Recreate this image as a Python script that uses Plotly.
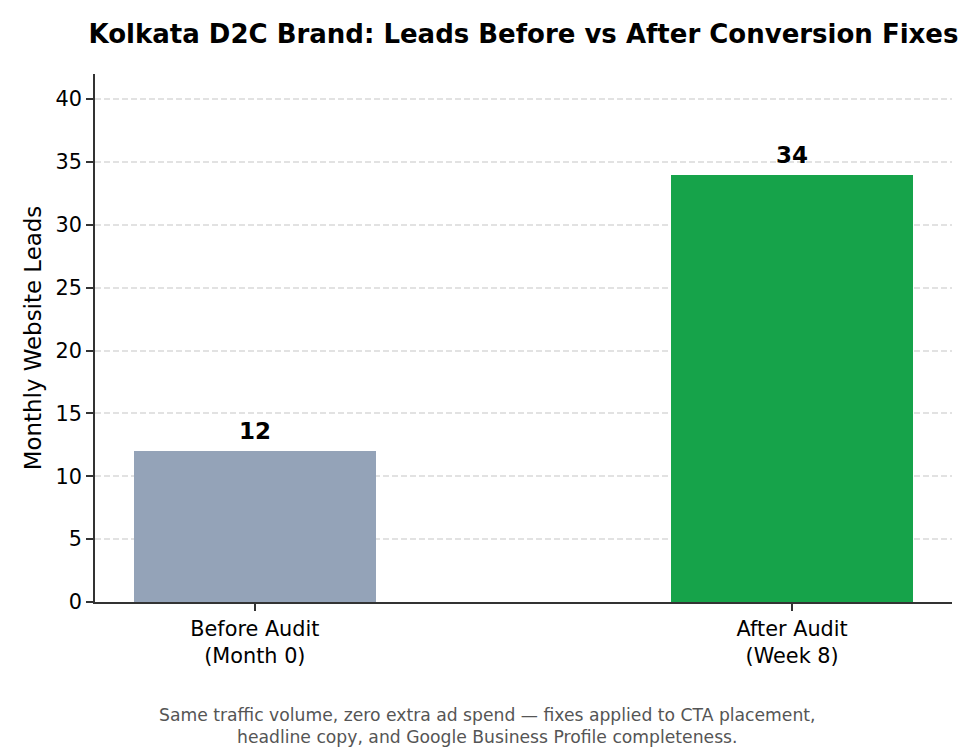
import plotly.graph_objects as go

stages = ["Before Audit<br>(Month 0)", "After Audit<br>(Week 8)"]
leads = [12, 34]
bar_colors = ["#94a3b8", "#16a34a"]
y_ticks = [0, 5, 10, 15, 20, 25, 30, 35, 40]

title_text = "Kolkata D2C Brand: Leads Before vs After Conversion Fixes"
note_text = ("Same traffic volume, zero extra ad spend \u2014 fixes applied to CTA placement,<br>"
             "headline copy, and Google Business Profile completeness.")

font_family = "DejaVu Sans"

fig = go.Figure()

fig.add_trace(go.Bar(
    x=[0, 1],
    y=leads,
    width=0.45,
    marker=dict(color=bar_colors, line=dict(width=0)),
    hoverinfo="skip",
    showlegend=False))

# value labels above bars
for i, v in enumerate(leads):
    fig.add_annotation(
        x=i, y=v, xref="x", yref="y",
        text=f"<b>{v}</b>",
        showarrow=False,
        yanchor="bottom",
        yshift=5,
        font=dict(family=font_family, size=23, color="black"))

# footnote under the chart
fig.add_annotation(
    x=(487.5 - 95) / 857, y=-(726 - 602) / 528,
    xref="paper", yref="paper",
    text=note_text,
    showarrow=False,
    xanchor="center", yanchor="middle",
    align="center",
    font=dict(family=font_family, size=17.2, color="#555555"))

fig.update_layout(
    width=975,
    height=750,
    margin=dict(l=95, r=23, t=74, b=148, pad=0),
    paper_bgcolor="white",
    plot_bgcolor="white",
    font=dict(family=font_family, size=20.8, color="black"),
    title=dict(
        text=f"<b>{title_text}</b>",
        x=(95 + 952) / 2 / 975,
        xanchor="center",
        y=1 - 34 / 750,
        yanchor="middle",
        yref="container",
        font=dict(family=font_family, size=26, color="black")),
    bargap=0,
    xaxis=dict(
        range=[-0.2975, 1.2975],
        tickmode="array",
        tickvals=[0, 1],
        ticktext=stages,
        ticks="outside",
        ticklen=7,
        tickwidth=1.5,
        tickcolor="#333333",
        showline=True,
        linecolor="#333333",
        linewidth=1.7,
        showgrid=False,
        zeroline=False,
        tickfont=dict(family=font_family, size=20.8, color="black")),
    yaxis=dict(
        range=[0, 42],
        tickmode="array",
        tickvals=y_ticks,
        ticks="outside",
        ticklen=7,
        tickwidth=1.5,
        tickcolor="#333333",
        showline=True,
        linecolor="#333333",
        linewidth=1.7,
        showgrid=True,
        gridcolor="#e2e2e2",
        gridwidth=1.5,
        griddash="6px,3px",
        zeroline=False,
        tickfont=dict(family=font_family, size=20.8, color="black"),
        title=dict(text="Monthly Website Leads",
                   standoff=8,
                   font=dict(family=font_family, size=22.9, color="black"))))

fig.write_html("out.html",
               config={"displayModeBar": False},
               post_script="document.body.style.margin='0';"
                           "document.body.style.overflow='hidden';")
